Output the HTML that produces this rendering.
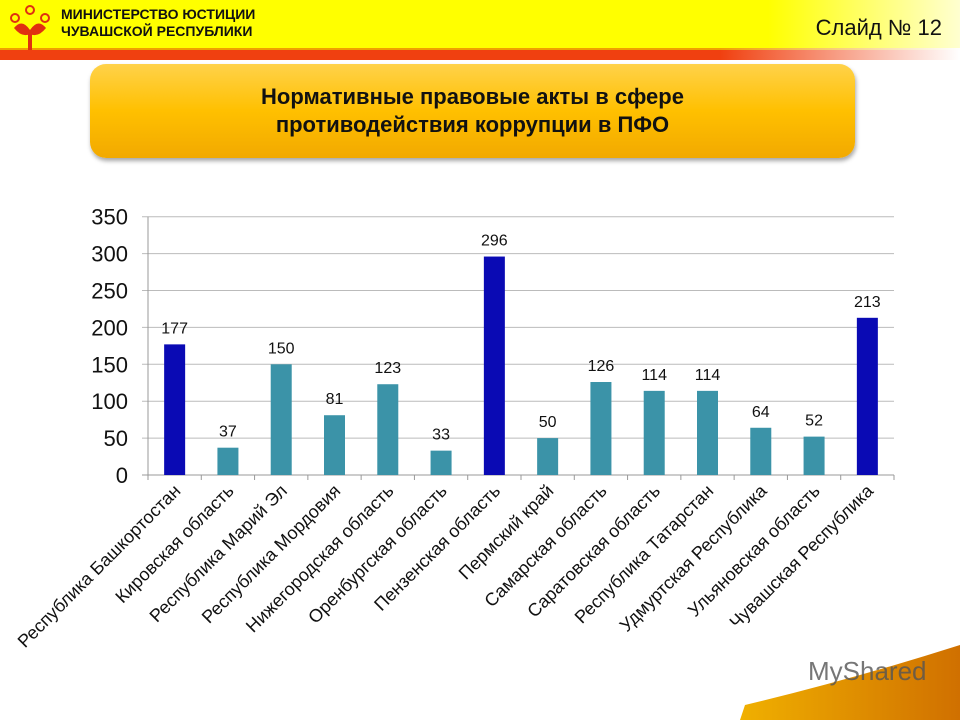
<!DOCTYPE html>
<html><head><meta charset="utf-8">
<style>
html,body{margin:0;padding:0;width:960px;height:720px;overflow:hidden;background:#fff;font-family:"Liberation Sans",sans-serif;}
#hdr{position:absolute;left:0;top:0;width:960px;height:50px;background:linear-gradient(90deg,#ffff00 0%,#ffff00 80%,#ffffd0 100%);}
#stripe{position:absolute;left:0;top:50px;width:960px;height:10px;background:linear-gradient(90deg,#f04010 0%,#f04010 75%,#ffffff 100%);}
#stripe2{position:absolute;left:0;top:48px;width:960px;height:2px;background:linear-gradient(90deg,#f0a000 0%,#f0a000 75%,#fff 100%);}
#min{position:absolute;left:61px;top:6px;font-weight:bold;font-size:14px;line-height:17px;color:#111;}
#slide{position:absolute;right:18px;top:15px;font-size:22px;color:#111;}
#title{position:absolute;left:90px;top:64px;width:765px;height:94px;border-radius:16px;background:linear-gradient(180deg,#ffd24a 0%,#ffc000 50%,#f2a900 100%);box-shadow:1px 3px 4px rgba(0,0,0,.35);display:flex;align-items:center;justify-content:center;text-align:center;font-weight:bold;font-size:22px;line-height:28px;color:#111;}
#foot{position:absolute;left:0;top:0;}
</style></head><body>
<div id="hdr"></div>
<div id="stripe2"></div>
<div id="stripe"></div>
<svg style="position:absolute;left:8px;top:4px" width="44" height="48">
<circle cx="22" cy="6" r="4" fill="none" stroke="#e03010" stroke-width="2"/><circle cx="7" cy="14" r="4" fill="none" stroke="#e03010" stroke-width="2"/><circle cx="37" cy="14" r="4" fill="none" stroke="#e03010" stroke-width="2"/>
<path d="M6 24 Q14 14 22 26 Q30 14 38 24 Q30 34 22 30 Q14 34 6 24Z" fill="#e03010"/><rect x="20" y="28" width="4" height="18" fill="#e03010"/></svg>
<div id="min">МИНИСТЕРСТВО ЮСТИЦИИ<br>ЧУВАШСКОЙ РЕСПУБЛИКИ</div>
<div id="slide">Слайд № 12</div>
<div id="title">Нормативные правовые акты в сфере<br>противодействия коррупции в ПФО</div>
<svg id="foot" width="960" height="720" style="position:absolute;left:0;top:0;pointer-events:none">
<defs><linearGradient id="fg" x1="0" y1="0" x2="1" y2="0"><stop offset="0" stop-color="#f0b000"/><stop offset="1" stop-color="#d07000"/></linearGradient></defs>
<path d="M740 720 L745 705 Q850 680 960 645 L960 720Z" fill="url(#fg)"/>
<text x="808" y="680" font-size="26" fill="#555" font-family="Liberation Sans" opacity="0.8">MyShared</text>
</svg>
<svg id="chart" width="960" height="720" style="position:absolute;left:0;top:0"></svg>
<script>
const categories=["Республика Башкортостан","Кировская область","Республика Марий Эл","Республика Мордовия","Нижегородская область","Оренбургская область","Пензенская область","Пермский край","Самарская область","Саратовская область","Республика Татарстан","Удмуртская Республика","Ульяновская область","Чувашская Республика"];
const values=[177,37,150,81,123,33,296,50,126,114,114,64,52,213];
const highlighted=[1,0,0,0,0,0,1,0,0,0,0,0,0,1];
const ticks=[0,50,100,150,200,250,300,350];
const NS="http://www.w3.org/2000/svg";
const svg=document.getElementById('chart');
const L=148,R=894,T=216.7,B=475,MAX=350;
const bw=(R-L)/categories.length;
function y(v){return B-(v/MAX)*(B-T);}
function x(i){return L+bw*(i+0.5);}
function mk(t,a){const e=document.createElementNS(NS,t);for(const k in a)e.setAttribute(k,a[k]);svg.appendChild(e);return e;}
ticks.forEach(t=>{
 const g=mk('line',{x1:L-6,x2:R,y1:y(t),y2:y(t),stroke:t===0?'#999':'#bbb','stroke-width':1});
 
 
 const tx=mk('text',{x:L-20,y:y(t)+8,'text-anchor':'end','font-size':22,fill:'#111','font-family':'Liberation Sans'});
 tx.textContent=t;
 
 
});
const ax=mk('line',{x1:L,x2:L,y1:T,y2:B,stroke:'#999'});


for(let i=0;i<=categories.length;i++){
 const tk=mk('line',{x1:L+bw*i,x2:L+bw*i,y1:B,y2:B+5,stroke:'#999'});
 
 
}
categories.forEach((c,i)=>{
 const v=values[i];
 const r=mk('rect',{x:x(i)-10.5,y:y(v),width:21,height:B-y(v),fill:highlighted[i]?'#0a0ab4':'#3b93a8'});
 
 
 const lb=mk('text',{x:x(i),y:y(v)-11,'text-anchor':'middle','font-size':16,fill:'#111','font-family':'Liberation Sans'});
 lb.textContent=v;
 
 
 const cx=x(i)+7,cy=492;
 const xl=mk('text',{x:cx,y:cy,'text-anchor':'end','font-size':18,fill:'#111','font-family':'Liberation Sans',transform:`rotate(-45 ${cx} ${cy})`});
 xl.textContent=c;
 
 
});
</script>
</body></html>
